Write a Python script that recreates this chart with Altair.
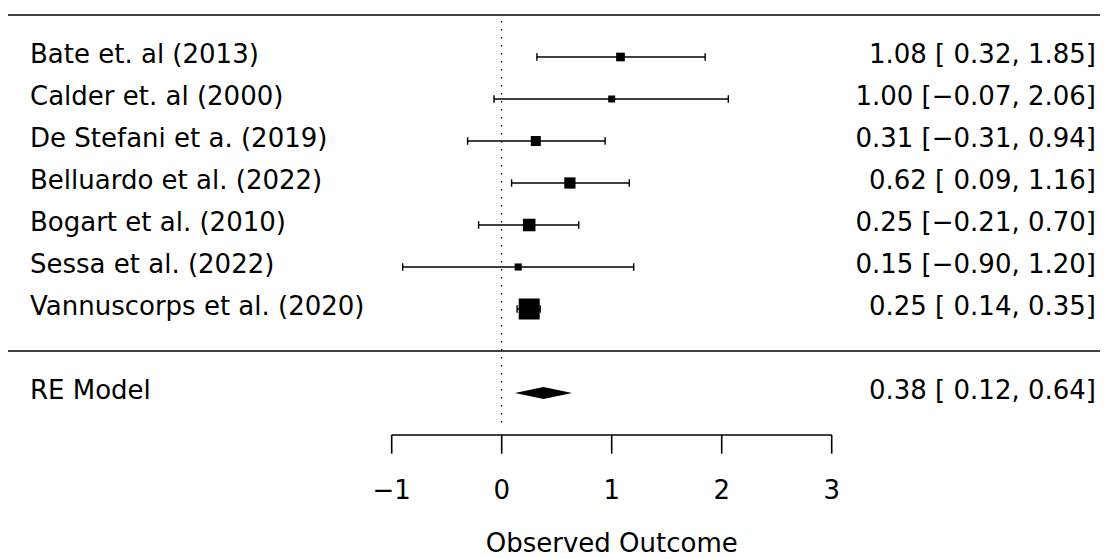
import altair as alt
import pandas as pd

# ---------------- data ----------------
studies = [
    "Bate et. al (2013)",
    "Calder et. al (2000)",
    "De Stefani et a. (2019)",
    "Belluardo et al. (2022)",
    "Bogart et al. (2010)",
    "Sessa et al. (2022)",
    "Vannuscorps et al. (2020)",
]
estimates = [1.08, 1.00, 0.31, 0.62, 0.25, 0.15, 0.25]
ci_lower = [0.32, -0.07, -0.31, 0.09, -0.21, -0.90, 0.14]
ci_upper = [1.85, 2.06, 0.94, 1.16, 0.70, 1.20, 0.35]
weights = [8.9, 5.1, 11.9, 14.6, 17.6, 5.3, 36.6]   # % weights (marker size)

re_label = "RE Model"
re_est, re_lower, re_upper = 0.38, 0.12, 0.64

tick_values = [-1, 0, 1, 2, 3]
axis_title = "Observed Outcome"
ref_value = 0

# ---------------- layout constants ----------------
W, H = 1092, 549
FONT = "DejaVu Sans"
FS = 26
k = len(studies)

xscale = alt.Scale(domain=[-4.4882, 5.4391], nice=False, zero=False)
yscale = alt.Scale(domain=[(343 - H) / 42, 343 / 42], nice=False, zero=False)


def fmt(v, pad=True):
    s = f"{abs(v):.2f}"
    if v < 0:
        return "\u2212" + s
    return (" " + s) if pad else s


rows = list(range(k, 0, -1))
wmin, wmax = min(weights), max(weights)
df = pd.DataFrame({
    "study": studies,
    "est": estimates,
    "lb": ci_lower,
    "ub": ci_upper,
    "w": weights,
    "row": rows,
})
df["cex2"] = (0.5 + (df["w"] - wmin) / (wmax - wmin)) ** 2
df["label"] = [f"{fmt(e, False)} [{fmt(l)}, {fmt(u, False)}]"
               for e, l, u in zip(estimates, ci_lower, ci_upper)]
df["y_top"] = df["row"] + 0.09
df["y_bot"] = df["row"] - 0.09

whisk = pd.concat([
    df[["lb", "y_top", "y_bot"]].rename(columns={"lb": "x"}),
    df[["ub", "y_top", "y_bot"]].rename(columns={"ub": "x"}),
])

re_row = -1
axis_row = -2
h = 6 / 42
diamond = pd.DataFrame({
    "x": [re_lower, re_est, re_upper],
    "y": [re_row, re_row + h, re_row],
    "y2": [re_row, re_row - h, re_row],
})
re_df = pd.DataFrame({
    "study": [re_label],
    "row": [re_row],
    "label": [f"{fmt(re_est, False)} [{fmt(re_lower)}, {fmt(re_upper, False)}]"],
})
labels_df = pd.concat([df[["study", "row", "label"]], re_df])

hlines = pd.DataFrame({"row": [k + 1, 0]})
ticks = pd.DataFrame({"t": tick_values,
                      "lab": [("\u2212" + str(abs(t))) if t < 0 else str(t) for t in tick_values],
                      "row": axis_row, "row2": axis_row - 0.445})
axis_line = pd.DataFrame({"x": [min(tick_values)], "x2": [max(tick_values)], "row": [axis_row]})
title_df = pd.DataFrame({"x": [(min(tick_values) + max(tick_values)) / 2],
                         "row": [axis_row], "txt": [axis_title]})
ref_df = pd.DataFrame({"x": [ref_value], "y": [7.857], "y2": [-1.81]})

X = lambda f: alt.X(f, scale=xscale, axis=None)
Y = lambda f: alt.Y(f, scale=yscale, axis=None)

hline_layer = alt.Chart(hlines).mark_rule(color="black", strokeWidth=1.6).encode(
    x=alt.value(0), x2=alt.value(W), y=Y("row:Q"))

ref_layer = alt.Chart(ref_df).mark_rule(color="black", strokeWidth=1.3,
                                        strokeDash=[1.4, 6.6]).encode(
    x=X("x:Q"), y=Y("y:Q"), y2="y2:Q")

ci_layer = alt.Chart(df).mark_rule(color="black", strokeWidth=1.4).encode(
    x=X("lb:Q"), x2="ub:Q", y=Y("row:Q"))

whisk_layer = alt.Chart(whisk).mark_rule(color="black", strokeWidth=1.4).encode(
    x=X("x:Q"), y=Y("y_top:Q"), y2="y_bot:Q")

sq_layer = alt.Chart(df).mark_square(filled=True, color="black", opacity=1).encode(
    x=X("est:Q"), y=Y("row:Q"),
    size=alt.Size("cex2:Q", scale=alt.Scale(domain=[0, 2.25], range=[0, 441]), legend=None))

dia_layer = alt.Chart(diamond).mark_area(color="black", opacity=1, interpolate="linear").encode(
    x=X("x:Q"), y=Y("y:Q"), y2="y2:Q")

left_txt = alt.Chart(labels_df).mark_text(align="left", baseline="alphabetic", dy=6,
                                          font=FONT, fontSize=FS, color="black").encode(
    x=alt.value(22), y=Y("row:Q"), text="study:N")

right_txt = alt.Chart(labels_df).mark_text(align="right", baseline="alphabetic", dy=6,
                                           font=FONT, fontSize=FS, color="black").encode(
    x=alt.value(1088), y=Y("row:Q"), text="label:N")

axis_layer = alt.Chart(axis_line).mark_rule(color="black", strokeWidth=1.6).encode(
    x=X("x:Q"), x2="x2:Q", y=Y("row:Q"))

tick_layer = alt.Chart(ticks).mark_rule(color="black", strokeWidth=1.6).encode(
    x=X("t:Q"), y=Y("row:Q"), y2="row2:Q")

tick_lab_layer = alt.Chart(ticks).mark_text(align="center", baseline="alphabetic", dy=64,
                                            font=FONT, fontSize=FS, color="black").encode(
    x=X("t:Q"), y=Y("row:Q"), text="lab:N")

title_layer = alt.Chart(title_df).mark_text(align="center", baseline="alphabetic", dy=117,
                                            font=FONT, fontSize=FS, color="black").encode(
    x=X("x:Q"), y=Y("row:Q"), text="txt:N")

chart = alt.layer(
    hline_layer, ref_layer, ci_layer, whisk_layer, sq_layer, dia_layer,
    left_txt, right_txt, axis_layer, tick_layer, tick_lab_layer, title_layer,
).properties(width=W, height=H, padding=0, autosize="none",
             background="white").configure_view(stroke=None)

chart.save("out.html", embed_options={"renderer": "svg", "actions": False})
